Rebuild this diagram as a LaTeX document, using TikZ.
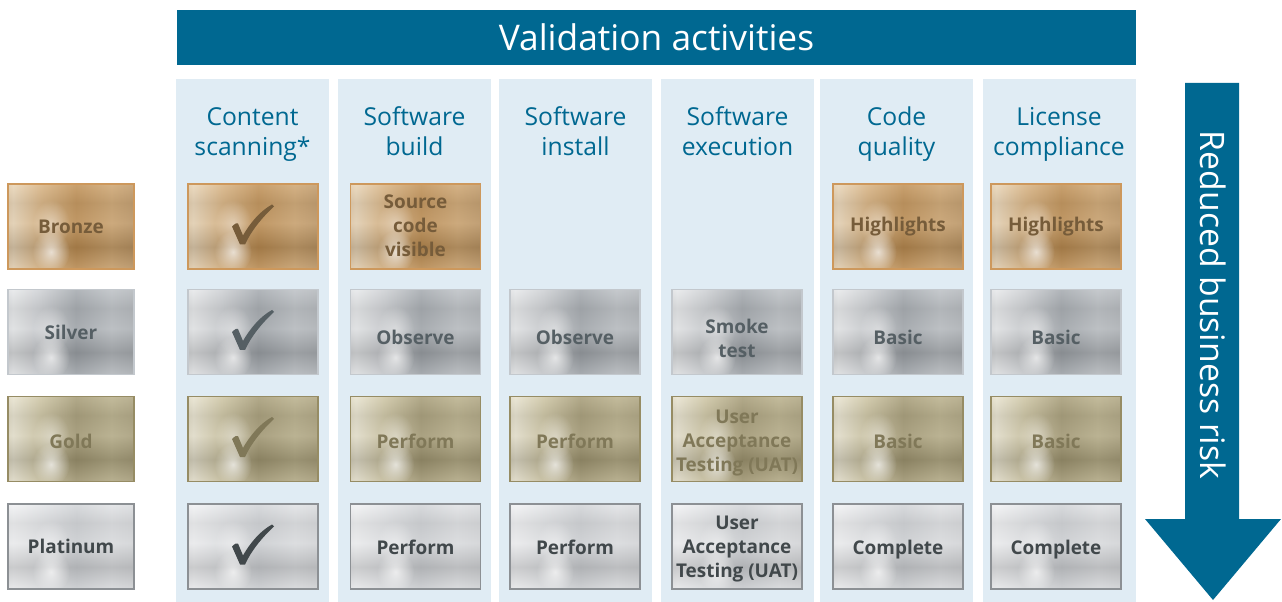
\documentclass[tikz,border=0pt]{standalone}
\usepackage{fontspec}
\setmainfont{Open Sans}
\usetikzlibrary{fadings}

\definecolor{hdrblue}{RGB}{0,104,145}
\definecolor{colbg}{RGB}{224,236,244}
% bronze
\definecolor{bz0}{RGB}{180,122,52}\definecolor{bz1}{RGB}{198,142,72}\definecolor{bz2}{RGB}{232,208,172}
\definecolor{bz3}{RGB}{212,168,110}\definecolor{bz4}{RGB}{184,128,58}\definecolor{bz5}{RGB}{200,152,90}
\definecolor{bz6}{RGB}{172,128,72}\definecolor{bz7}{RGB}{160,135,95}
\definecolor{bronzeBorder}{RGB}{205,152,92}\definecolor{bronzeText}{RGB}{118,92,58}
% silver
\definecolor{sv0}{RGB}{150,155,160}\definecolor{sv1}{RGB}{178,182,187}\definecolor{sv2}{RGB}{228,230,232}
\definecolor{sv3}{RGB}{198,201,205}\definecolor{sv4}{RGB}{150,156,162}\definecolor{sv5}{RGB}{178,183,188}
\definecolor{sv6}{RGB}{158,163,168}\definecolor{sv7}{RGB}{180,183,187}
\definecolor{silverBorder}{RGB}{195,200,205}\definecolor{silverText}{RGB}{85,95,100}
% gold
\definecolor{gd0}{RGB}{150,136,90}\definecolor{gd1}{RGB}{174,160,112}\definecolor{gd2}{RGB}{230,224,200}
\definecolor{gd3}{RGB}{198,188,148}\definecolor{gd4}{RGB}{152,140,96}\definecolor{gd5}{RGB}{175,164,120}
\definecolor{gd6}{RGB}{152,140,98}\definecolor{gd7}{RGB}{170,162,132}
\definecolor{goldBorder}{RGB}{150,140,100}\definecolor{goldText}{RGB}{128,120,88}
% platinum
\definecolor{pt0}{RGB}{198,201,205}\definecolor{pt1}{RGB}{214,216,219}\definecolor{pt2}{RGB}{242,243,245}
\definecolor{pt3}{RGB}{226,228,231}\definecolor{pt4}{RGB}{205,208,212}\definecolor{pt5}{RGB}{222,224,227}
\definecolor{pt6}{RGB}{208,210,213}\definecolor{pt7}{RGB}{216,218,221}
\definecolor{platinumBorder}{RGB}{140,144,148}\definecolor{platinumText}{RGB}{65,72,75}

\pgfdeclarehorizontalshading{bronzeH}{100bp}{color(0bp)=(bz0); color(12bp)=(bz1); color(27bp)=(bz2); color(38bp)=(bz3); color(52bp)=(bz4); color(66bp)=(bz5); color(82bp)=(bz6); color(100bp)=(bz7)}
\pgfdeclarehorizontalshading{silverH}{100bp}{color(0bp)=(sv0); color(12bp)=(sv1); color(27bp)=(sv2); color(38bp)=(sv3); color(52bp)=(sv4); color(66bp)=(sv5); color(82bp)=(sv6); color(100bp)=(sv7)}
\pgfdeclarehorizontalshading{goldH}{100bp}{color(0bp)=(gd0); color(12bp)=(gd1); color(27bp)=(gd2); color(38bp)=(gd3); color(52bp)=(gd4); color(66bp)=(gd5); color(82bp)=(gd6); color(100bp)=(gd7)}
\pgfdeclarehorizontalshading{platinumH}{100bp}{color(0bp)=(pt0); color(12bp)=(pt1); color(27bp)=(pt2); color(38bp)=(pt3); color(52bp)=(pt4); color(66bp)=(pt5); color(82bp)=(pt6); color(100bp)=(pt7)}
\pgfdeclareverticalshading{metalV}{100bp}{color(0bp)=(black!40); color(14bp)=(white); color(26bp)=(black!20); color(38bp)=(black!60); color(52bp)=(black!15); color(64bp)=(black!30); color(76bp)=(white); color(88bp)=(black!50); color(100bp)=(black!85)}
\tikzfading[name=fuzzyspot, inner color=transparent!0, outer color=transparent!100]

\newcommand\tilefont{\bfseries\fontsize{14.2}{18}\selectfont}
\newcommand\colheadfont{\fontsize{18.5}{22.5}\selectfont}
% text with a fixed top pad (first arg) and a strut at the end
\newcommand\tx[2]{\rule{0pt}{#1}#2\strut}

\tikzset{
  tile/.style={shade, shading=#1H, draw=#1Border, line width=0.9pt,
    minimum width=97.5pt, minimum height=63.75pt, inner sep=0pt, align=center,
    text=#1Text, font=\tilefont,
    path picture={
      \shade[shading=metalV, fill opacity=0.28] (path picture bounding box.south west) rectangle (path picture bounding box.north east);
      \fill[white, fill opacity=0.7, path fading=fuzzyspot] ([xshift=-15pt,yshift=-19pt]path picture bounding box.center) ellipse [x radius=14pt, y radius=16pt];
      \fill[white, fill opacity=0.4, path fading=fuzzyspot] ([xshift=-15pt,yshift=2pt]path picture bounding box.center) ellipse [x radius=14pt, y radius=18pt];
    }},
  lefttile/.style={tile=#1, minimum width=94.5pt},
  colbox/.style={fill=colbg, minimum width=114.75pt, minimum height=392.25pt, inner sep=0pt},
  colhead/.style={text=hdrblue, align=center, font=\colheadfont, inner sep=0pt},
  chk/.pic={
    \fill[pic actions] (-21,0) .. controls (-18,-3) and (-16,-4) .. (-15,-3) -- (-10,9)
      .. controls (-2,-5) and (8,-16) .. (19,-22) -- (21,-20)
      .. controls (8,-8) and (-2,5) .. (-8,18) -- (-13,18) -- cycle;
  }
}

\begin{document}
\begin{tikzpicture}[x=0.75pt,y=-0.75pt]
\useasboundingbox (0,0) rectangle (1282,602);

% header
\node[fill=hdrblue, minimum width=719.25pt, minimum height=41.25pt, inner sep=0pt,
      text=white, font=\fontsize{26.5}{30}\selectfont] (hdr) at (656.5,37.5) {Validation activities};

% column backgrounds
\node[colbox] (c1) at (252.5,340.5) {};
\node[colbox] (c2) at (414.5,340.5) {};
\node[colbox] (c3) at (575.5,340.5) {};
\node[colbox] (c4) at (737.5,340.5) {};
\node[colbox] (c5) at (896.5,340.5) {};
\node[colbox] (c6) at (1059,340.5) {};

% column headers
\node[colhead] (h1) at (252.5,135) {\strut Content\\scanning*\strut};
\node[colhead] (h2) at (414.5,135) {\strut Software\\build\strut};
\node[colhead] (h3) at (575.5,135) {\strut Software\\install\strut};
\node[colhead] (h4) at (737.5,135) {\strut Software\\execution\strut};
\node[colhead] (h5) at (896.5,135) {\strut Code\\quality\strut};
\node[colhead] (h6) at (1059,135) {\strut License\\compliance\strut};

% level labels
\node[lefttile=bronze]   (lb) at (71,226.5) {\tx{15.6pt}{Bronze}};
\node[lefttile=silver]   (ls) at (71,332) {\tx{17.1pt}{Silver}};
\node[lefttile=gold]     (lg) at (71,439) {\tx{20.1pt}{Gold}};
\node[lefttile=platinum] (lp) at (71,546.5) {\tx{15.6pt}{Platinum}};

% content scanning
\node[tile=bronze]   (b1) at (253,226.5) {};
\node[tile=silver]   (s1) at (253,332) {};
\node[tile=gold]     (g1) at (253,439) {};
\node[tile=platinum] (p1) at (253,546.5) {};
\pic[fill=bronzeText]   at (b1) {chk};
\pic[fill=silverText]   at (s1) {chk};
\pic[fill=goldText]     at (g1) {chk};
\pic[fill=platinumText] at (p1) {chk};

% software build
\node[tile=bronze]   (b2) at (415.5,226.5) {\tx{14.1pt}{Source\\code\\visible}};
\node[tile=silver]   (s2) at (415.5,332) {\tx{24.6pt}{Observe}};
\node[tile=gold]     (g2) at (415.5,439) {\tx{20.1pt}{Perform}};
\node[tile=platinum] (p2) at (415.5,546.5) {\tx{17.1pt}{Perform}};

% software install
\node[tile=silver]   (s3) at (575,332) {\tx{24.6pt}{Observe}};
\node[tile=gold]     (g3) at (575,439) {\tx{20.1pt}{Perform}};
\node[tile=platinum] (p3) at (575,546.5) {\tx{17.1pt}{Perform}};

% software execution
\node[tile=silver]   (s4) at (737,332) {\tx{26.1pt}{Smoke\\test}};
\node[tile=gold]     (g4) at (737,439) {\tx{18.6pt}{User\\Acceptance\\Testing (UAT)}};
\node[tile=platinum] (p4) at (737,546.5) {\tx{15.6pt}{User\\Acceptance\\Testing (UAT)}};

% code quality
\node[tile=bronze]   (b5) at (898,226.5) {\tx{12.6pt}{Highlights}};
\node[tile=silver]   (s5) at (898,332) {\tx{24.6pt}{Basic}};
\node[tile=gold]     (g5) at (898,439) {\tx{20.1pt}{Basic}};
\node[tile=platinum] (p5) at (898,546.5) {\tx{17.1pt}{Complete}};

% license compliance
\node[tile=bronze]   (b6) at (1056,226.5) {\tx{12.6pt}{Highlights}};
\node[tile=silver]   (s6) at (1056,332) {\tx{24.6pt}{Basic}};
\node[tile=gold]     (g6) at (1056,439) {\tx{20.1pt}{Basic}};
\node[tile=platinum] (p6) at (1056,546.5) {\tx{17.1pt}{Complete}};

% risk arrow
\fill[hdrblue] (1185,83) -- (1239,83) -- (1239,519) -- (1281,519) -- (1213,600) -- (1145,519) -- (1185,519) -- cycle;
\node[rotate=-90, text=white, font=\fontsize{25.3}{30}\selectfont, inner sep=0pt] (risk) at (1213,305) {Reduced business risk};
\end{tikzpicture}
\end{document}
